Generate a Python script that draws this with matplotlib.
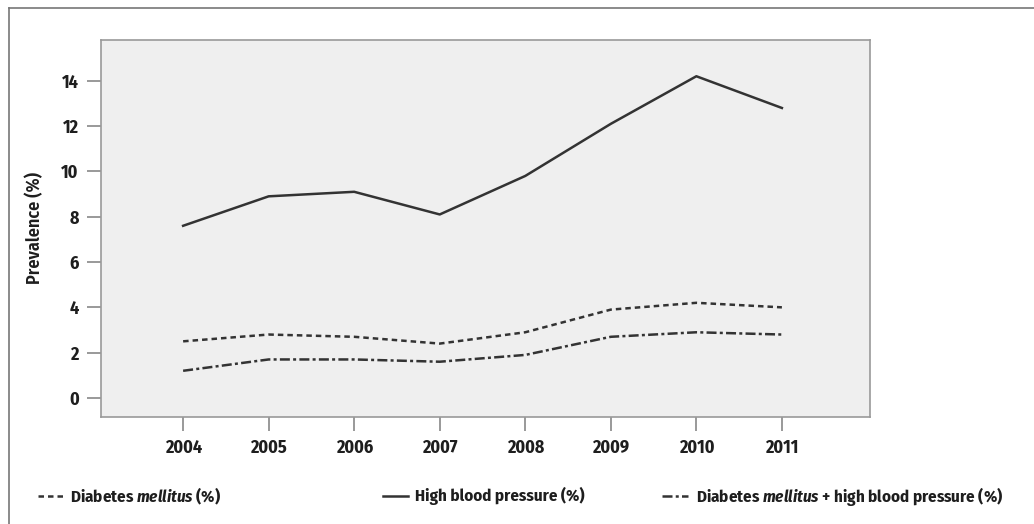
import matplotlib
matplotlib.use("Agg")
import matplotlib.pyplot as plt
from matplotlib.lines import Line2D
from matplotlib import font_manager

years = [2004, 2005, 2006, 2007, 2008, 2009, 2010, 2011]
diabetes = [2.5, 2.8, 2.7, 2.4, 2.9, 3.9, 4.2, 4.0]
hbp = [7.6, 8.9, 9.1, 8.1, 9.8, 12.1, 14.2, 12.8]
combined = [1.2, 1.7, 1.7, 1.6, 1.9, 2.7, 2.9, 2.8]
yticks = [0, 2, 4, 6, 8, 10, 12, 14]

names = {f.name for f in font_manager.fontManager.ttflist}
fam = "DejaVu Sans"
for cand in ["Fira Sans Condensed", "Archivo Narrow", "Barlow Condensed", "Asap Condensed"]:
    if cand in names:
        fam = cand
        break
plt.rcParams["font.family"] = [fam, "DejaVu Sans"]
plt.rcParams["mathtext.fontset"] = "custom"
plt.rcParams["mathtext.it"] = fam + ":italic:bold"
plt.rcParams["mathtext.rm"] = fam + ":bold"

FW = "bold"
FS = 13
FSL = 12.2
TC = "#1e1e1e"

W, H = 1034, 524
fig = plt.figure(figsize=(W / 100, H / 100), dpi=100)
fig.patch.set_facecolor("white")

# outer frame (top and left visible)
fig.add_artist(Line2D([9 / W, 9 / W], [0, 1 - 8 / H], transform=fig.transFigure, color="#777777", lw=1.2))
fig.add_artist(Line2D([9 / W, 1], [1 - 8 / H, 1 - 8 / H], transform=fig.transFigure, color="#777777", lw=1.2))

ax = fig.add_axes([101 / W, 1 - 417 / H, (870 - 101) / W, (417 - 40) / H])
ax.set_facecolor("#efefef")
for s in ax.spines.values():
    s.set_color("#999999")
    s.set_linewidth(1.2)

lc = "#333333"
ls_dm = (0, (2.2, 1.6))
ls_comb = (0, (4, 1.3, 1.2, 1.3))
ax.plot(years, diabetes, color=lc, lw=1.8, linestyle=ls_dm)
ax.plot(years, hbp, color=lc, lw=1.8, linestyle="-")
ax.plot(years, combined, color=lc, lw=1.8, linestyle=ls_comb)

ax.set_xlim(2003.04, 2012.03)
ax.set_ylim(-0.84, 15.8)
ax.set_xticks(years)
ax.set_xticklabels([str(y) for y in years])
ax.set_yticks(yticks)
ax.set_yticklabels([str(v) for v in yticks])
ax.tick_params(axis="both", direction="out", length=10, width=1.2, color="#888888",
               labelsize=FS, labelcolor=TC)
ax.tick_params(axis="y", pad=6)
ax.tick_params(axis="x", pad=6)
for lab in ax.get_xticklabels() + ax.get_yticklabels():
    lab.set_fontweight(FW)

fig.text(35 / W, 1 - 228 / H, "Prevalence (%)", rotation=90, ha="center", va="center",
         fontsize=FS, fontweight="semibold", color=TC)

# legend
ly = 1 - 496 / H
items = [
    (38, 64, ls_dm, 70, r"Diabetes $\mathit{mellitus}$ (%)"),
    (383, 408, "-", 415, "High blood pressure (%)"),
    (662, 688, ls_comb, 696, r"Diabetes $\mathit{mellitus}$ + high blood pressure (%)"),
]
for x0, x1, ls, tx, label in items:
    fig.add_artist(Line2D([x0 / W, x1 / W], [ly, ly], transform=fig.transFigure,
                          color=lc, lw=1.8, linestyle=ls))
    fig.text(tx / W, ly, label, ha="left", va="center", fontsize=FSL, fontweight=FW, color=TC)

fig.savefig("out.png", dpi=100)
